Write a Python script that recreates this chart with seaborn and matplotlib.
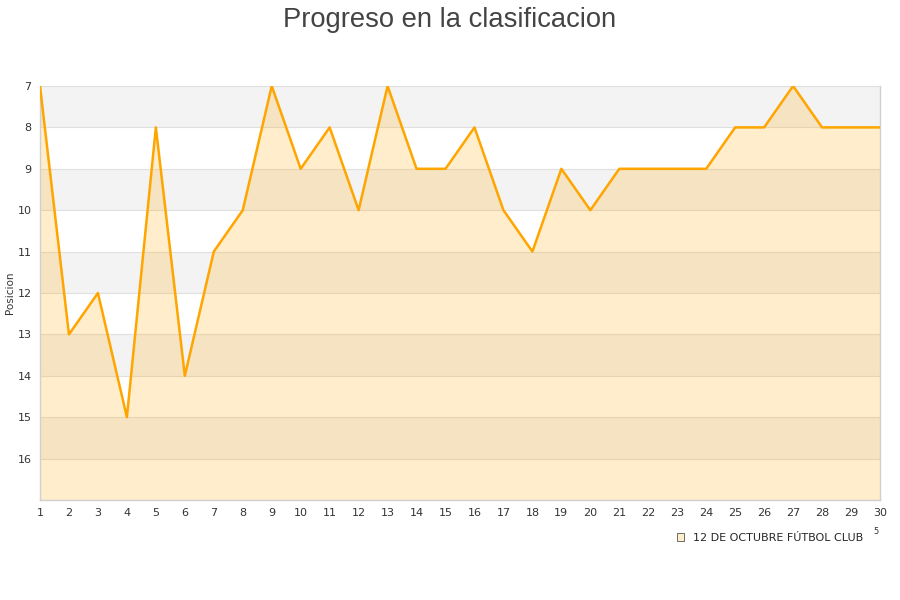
import matplotlib
matplotlib.use('Agg')
import matplotlib.pyplot as plt
import seaborn as sns
import pandas as pd
from matplotlib.patches import Patch

jornadas = list(range(1, 31))
posiciones = [7, 13, 12, 15, 8, 14, 11, 10, 7, 9, 8, 10, 7, 9, 9, 8, 10, 11, 9, 10,
              9, 9, 9, 9, 8, 8, 7, 8, 8, 8]
equipo = '12 DE OCTUBRE FÚTBOL CLUB'
y_ticks = list(range(7, 17))

df = pd.DataFrame({'Jornada': jornadas, 'Posicion': posiciones})

sns.set_style('white')
plt.rcParams['font.family'] = ['DejaVu Sans']

fig = plt.figure(figsize=(9, 6), dpi=100)
ax = fig.add_axes([40 / 900, 100 / 600, 840 / 900, 414 / 600])

# alternating stripes
for y in range(7, 17, 2):
    ax.axhspan(y, y + 1, color='#f3f3f3', zorder=0, lw=0)
for y in range(7, 18):
    ax.axhline(y, color='#e0e0e0', lw=0.8, zorder=1)

ax.fill_between(df['Jornada'], df['Posicion'], 17, color='#ffa500', alpha=0.2, lw=0, zorder=2)
sns.lineplot(data=df, x='Jornada', y='Posicion', color='#ffa500', lw=1.8, ax=ax, zorder=3)

ax.set_xlim(1, 30)
ax.set_ylim(17, 7)
ax.set_xticks(jornadas)
ax.set_yticks(y_ticks)
ax.tick_params(axis='both', labelsize=8, colors='#333333', length=0, pad=6)
ax.set_xlabel('')
ax.set_ylabel('Posicion', fontsize=7.5, color='#333333', labelpad=2)

for s in ['left', 'bottom', 'right']:
    ax.spines[s].set_color('#d0d0d0')
    ax.spines[s].set_linewidth(1)
ax.spines['top'].set_visible(False)

fig.text(0.5, 0.988, 'Progreso en la clasificacion', ha='center', va='top',
         fontsize=19.7, color='#444444', family='Liberation Sans')

handle = Patch(facecolor='#ffeecc', edgecolor='#555555', linewidth=0.6)
fig.legend([handle], [equipo], loc='center', bbox_to_anchor=(770 / 900, 1 - 538 / 600),
           frameon=False, fontsize=8, handlelength=0.7, handleheight=0.7, handletextpad=0.8)
fig.text(876 / 900, 1 - 532 / 600, '5', fontsize=6, color='#333333', ha='center', va='center')

plt.savefig('out.png', dpi=100)
plt.close()
